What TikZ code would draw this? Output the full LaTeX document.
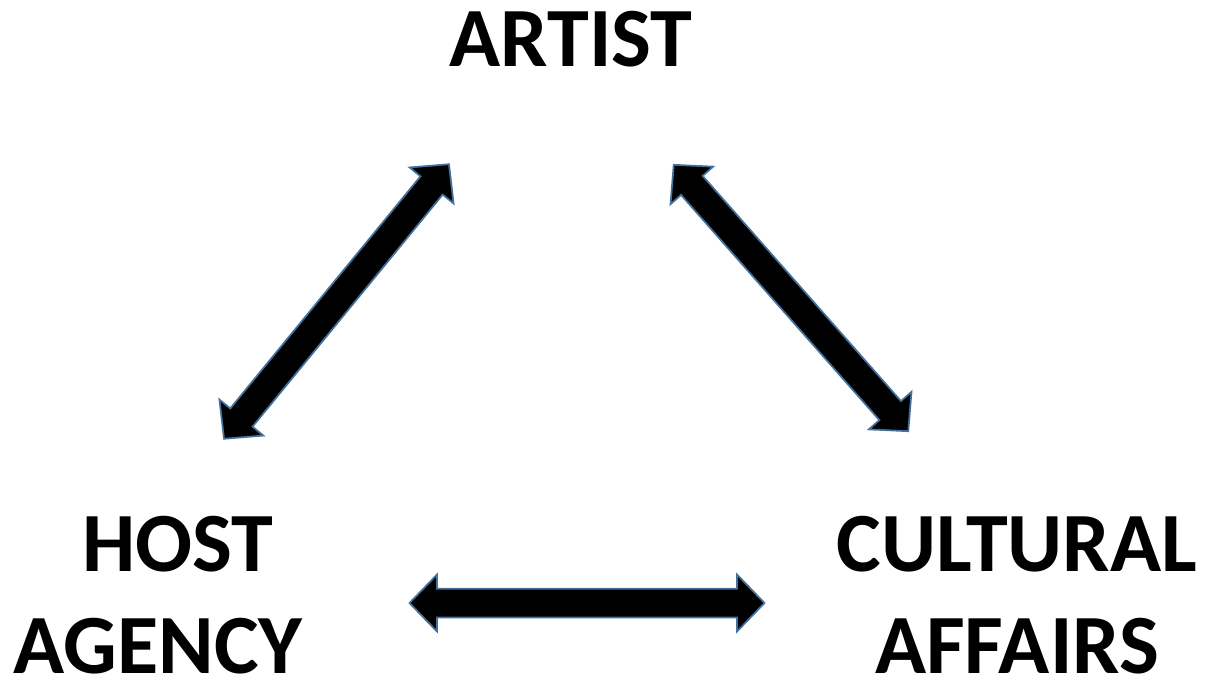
\documentclass[tikz,border=0pt]{standalone}
\usepackage{fontspec}
\setmainfont{Carlito}
\usetikzlibrary{shapes.arrows, positioning, calc}
\definecolor{edgeblue}{RGB}{65,113,156}

\begin{document}
\begin{tikzpicture}[
	x=0.02cm, y=-0.02cm,
	label/.style={align=center, inner sep=0pt, anchor=base, text depth=0pt, font=\fontsize{48}{57.5}\selectfont\bfseries},
	dblarrow/.style={double arrow, fill=black, draw=edgeblue, line width=1pt, inner xsep=0pt, inner ysep=0.27cm,
		minimum height=7.1cm, double arrow head extend=0.28cm, double arrow tip angle=92, sloped}
	]
	\useasboundingbox (0,0) rectangle (1209,680);
	\node[label] (artist) at (571,66) {ARTIST};
	\node[label] (host) at (158,673) {\hspace*{0.8cm}HOST\\ AGENCY};
	\node[label] (cult) at (1017,673) {CULTURAL\\ AFFAIRS};

	\coordinate (a1) at (223,440);
	\coordinate (a2) at (450,163);
	\coordinate (b1) at (673,164);
	\coordinate (b2) at (909,432);
	\coordinate (c1) at (409,603);
	\coordinate (c2) at (765,603);

	\path (a1) -- node[dblarrow] (host-artist) {} (a2);
	\path (b1) -- node[dblarrow] (artist-cult) {} (b2);
	\path (c1) -- node[dblarrow] (host-cult) {} (c2);
\end{tikzpicture}
\end{document}
